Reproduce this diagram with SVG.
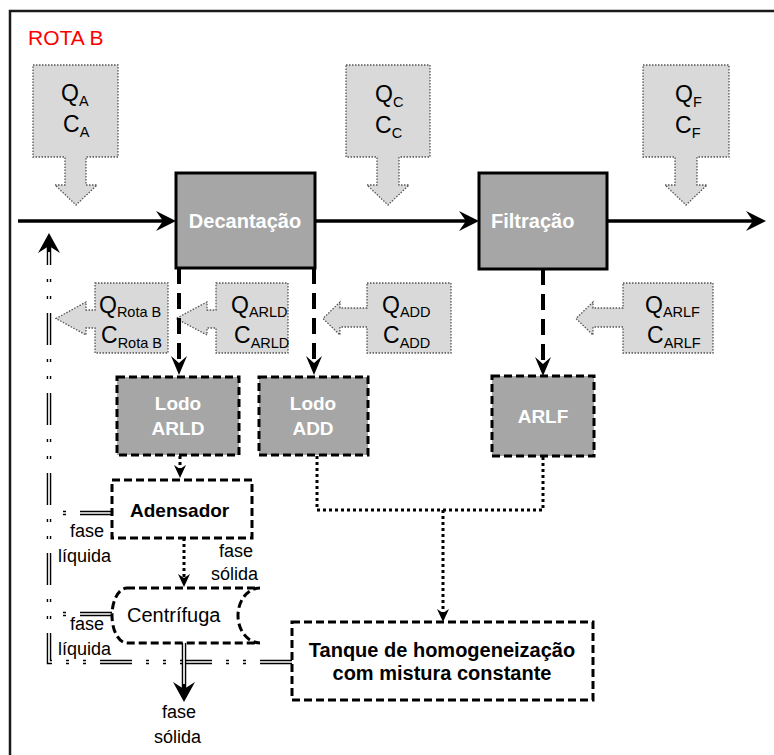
<svg xmlns="http://www.w3.org/2000/svg" width="774" height="755" viewBox="0 0 774 755">
<style>
.call{fill:#d9d9d9;stroke:#555;stroke-width:1.3;stroke-dasharray:1.5 1.5}
.proc{fill:#a6a6a6;stroke:#000;stroke-width:3}
.sludge{fill:#a6a6a6;stroke:#000;stroke-width:3;stroke-dasharray:8 4}
.wbox{fill:#fff;stroke:#000;stroke-width:3;stroke-dasharray:8 4}
.lbl{font-family:"Liberation Sans",Arial,sans-serif;font-size:23px;fill:#000}
.sub{font-size:14.5px}
.wt{font-family:"Liberation Sans",Arial,sans-serif;font-weight:bold;fill:#fff}
.bt{font-family:"Liberation Sans",Arial,sans-serif;font-weight:bold;fill:#000}
.sm{font-family:"Liberation Sans",Arial,sans-serif;font-size:18px;fill:#000}
.main{fill:none;stroke:#000;stroke-width:3.5}
.dash{fill:none;stroke:#000;stroke-width:4;stroke-dasharray:16 9}
.dot{fill:none;stroke:#000;stroke-width:3;stroke-dasharray:3 3}
.dbl{fill:none;stroke:#000;stroke-width:4.5;stroke-dasharray:32 14 3 14 3 14}
.dblw{fill:none;stroke:#fff;stroke-width:1.7;stroke-dasharray:32 14 3 14 3 14}
.sol{fill:none;stroke:#000;stroke-width:4.5}
.solw{fill:none;stroke:#fff;stroke-width:1.7}
</style>
<defs>
<marker id="am" viewBox="-16 -11 24 22" refX="0" refY="0" markerWidth="24" markerHeight="22" markerUnits="userSpaceOnUse" orient="auto"><path d="M6,0 L-14,-10 L-7,0 L-14,10 Z" fill="#000"/></marker>
<marker id="ad" viewBox="-14 -9 24 18" refX="0" refY="0" markerWidth="24" markerHeight="18" markerUnits="userSpaceOnUse" orient="auto"><path d="M8,0 L-11,-8 L-4,0 L-11,8 Z" fill="#000"/></marker>
<marker id="ao" viewBox="-10 -7 18 14" refX="0" refY="0" markerWidth="18" markerHeight="14" markerUnits="userSpaceOnUse" orient="auto"><path d="M6,0 L-7,-6 L-3,0 L-7,6 Z" fill="#000"/></marker>
<marker id="a2" viewBox="-16 -12 26 24" refX="0" refY="0" markerWidth="26" markerHeight="24" markerUnits="userSpaceOnUse" orient="auto"><path d="M8,0 L-12,-11 L-5,0 L-12,11 Z" fill="#000"/></marker>
</defs>
<rect x="0" y="0" width="774" height="755" fill="#fff"/>
<rect x="10" y="11" width="775" height="760" fill="#fff" stroke="#1a1a1a" stroke-width="2.5"/>
<text x="28" y="45" font-family="Liberation Sans, Arial, sans-serif" font-size="21" fill="#ff0000">ROTA B</text>

<g id="callouts">
<g id="in-A"><path class="call" d="M33,65 H118 V157 H86 V185 H97 L76,205 L55,185 H65 V157 H33 Z"/>
<text class="lbl" x="61" y="101">Q<tspan class="sub" dy="5">A</tspan></text>
<text class="lbl" x="63" y="132">C<tspan class="sub" dy="5">A</tspan></text></g>
<g id="in-C"><path class="call" d="M346,65 H430 V157 H399 V185 H409 L388,205 L367,185 H377 V157 H346 Z"/>
<text class="lbl" x="375" y="102">Q<tspan class="sub" dy="5">C</tspan></text>
<text class="lbl" x="375" y="133">C<tspan class="sub" dy="5">C</tspan></text></g>
<g id="in-F"><path class="call" d="M643,65 H729 V157 H697 V185 H707 L686,205 L665,185 H675 V157 H643 Z"/>
<text class="lbl" x="675" y="102">Q<tspan class="sub" dy="5">F</tspan></text>
<text class="lbl" x="675" y="133">C<tspan class="sub" dy="5">F</tspan></text></g>
<g id="out-RotaB"><path class="call" d="M95,283 H168 V353 H95 V328 H86 V335 L56,318.5 L86,302 V310 H95 Z"/>
<text class="lbl" x="99" y="313">Q<tspan class="sub" dy="4">Rota B</tspan></text>
<text class="lbl" x="101" y="343">C<tspan class="sub" dy="5">Rota B</tspan></text></g>
<g id="out-ARLD"><path class="call" d="M216,283 H288 V353 H216 V328 H207 V335 L176,318.5 L207,302 V310 H216 Z"/>
<text class="lbl" x="231" y="313">Q<tspan class="sub" dy="4">ARLD</tspan></text>
<text class="lbl" x="234" y="343">C<tspan class="sub" dy="5">ARLD</tspan></text></g>
<g id="out-ADD"><path class="call" d="M367,283 H451 V353 H367 V327 H340 V335 L323,318.5 L340,302 V308 H367 Z"/>
<text class="lbl" x="382" y="313">Q<tspan class="sub" dy="4">ADD</tspan></text>
<text class="lbl" x="383" y="343">C<tspan class="sub" dy="5">ADD</tspan></text></g>
<g id="out-ARLF"><path class="call" d="M623,283 H713 V353 H623 V327 H593 V335 L576,318.5 L593,302 V308 H623 Z"/>
<text class="lbl" x="645" y="313">Q<tspan class="sub" dy="4">ARLF</tspan></text>
<text class="lbl" x="647" y="343">C<tspan class="sub" dy="5">ARLF</tspan></text></g>
</g>

<g id="connectors">
<path class="main" d="M18,221 H170" marker-end="url(#am)"/>
<path class="main" d="M315,221 H473" marker-end="url(#am)"/>
<path class="main" d="M607,221 H760" marker-end="url(#am)"/>
<path class="dash" d="M179,268 V367" marker-end="url(#ad)"/>
<path class="dash" d="M314,268 V367" marker-end="url(#ad)"/>
<path class="dash" d="M543,269 V368" marker-end="url(#ad)"/>
<path class="dot" d="M180,456 V472" marker-end="url(#ao)"/>
<path class="dot" d="M184,538 V581" marker-end="url(#ao)"/>
<path class="dot" d="M317,456 V510 H543 V456"/>
<path class="dot" d="M443,510 V616" marker-end="url(#ao)"/>
<path class="dbl" d="M292,662 H49 V241" marker-end="url(#a2)"/>
<path class="dblw" d="M292,662 H49 V252"/>
<path class="dbl" d="M112,513 H49"/>
<path class="dblw" d="M112,513 H49"/>
<path class="dbl" d="M112,614 H49"/>
<path class="dblw" d="M112,614 H49"/>
<path class="sol" d="M184,643 V694" marker-end="url(#a2)"/>
<path class="solw" d="M184,643 V684"/>
</g>

<g id="decantacao"><rect class="proc" x="176" y="173" width="139" height="95"/>
<text class="wt" x="245" y="228" font-size="20" text-anchor="middle">Decantação</text></g>
<g id="filtracao"><rect class="proc" x="479" y="173" width="128" height="96"/>
<text class="wt" x="491" y="228" font-size="20">Filtração</text></g>
<g id="lodo-arld"><rect class="sludge" x="117" y="377" width="122" height="78"/>
<text class="wt" x="178" y="410" font-size="19" text-anchor="middle">Lodo</text>
<text class="wt" x="178" y="435" font-size="19" text-anchor="middle">ARLD</text></g>
<g id="lodo-add"><rect class="sludge" x="259" y="377" width="109" height="78"/>
<text class="wt" x="313" y="410" font-size="19" text-anchor="middle">Lodo</text>
<text class="wt" x="313" y="435" font-size="19" text-anchor="middle">ADD</text></g>
<g id="arlf"><rect class="sludge" x="492" y="376" width="102" height="80"/>
<text class="wt" x="543" y="423" font-size="19" text-anchor="middle">ARLF</text></g>
<g id="adensador"><rect class="wbox" x="112" y="480" width="140" height="58"/>
<text class="bt" x="130" y="517" font-size="19">Adensador</text></g>
<g id="centrifuga"><path class="wbox" d="M127,588 H260 A22,27.5 0 0 0 260,643 H127 A15,27.5 0 0 1 127,588 Z"/>
<text class="sm" x="127" y="622" style="font-size:20px">Centrífuga</text></g>
<g id="tanque"><rect class="wbox" x="292" y="622" width="301" height="78"/>
<text class="bt" x="442" y="657" font-size="20" text-anchor="middle">Tanque de homogeneização</text>
<text class="bt" x="442" y="680" font-size="20" text-anchor="middle">com mistura constante</text></g>

<g id="labels">
<text class="sm" x="70" y="537">fase</text>
<text class="sm" x="58" y="562">líquida</text>
<text class="sm" x="219" y="557">fase</text>
<text class="sm" x="211" y="580">sólida</text>
<text class="sm" x="70" y="630">fase</text>
<text class="sm" x="58" y="655">líquida</text>
<text class="sm" x="162" y="718">fase</text>
<text class="sm" x="154" y="743">sólida</text>
</g>
</svg>
